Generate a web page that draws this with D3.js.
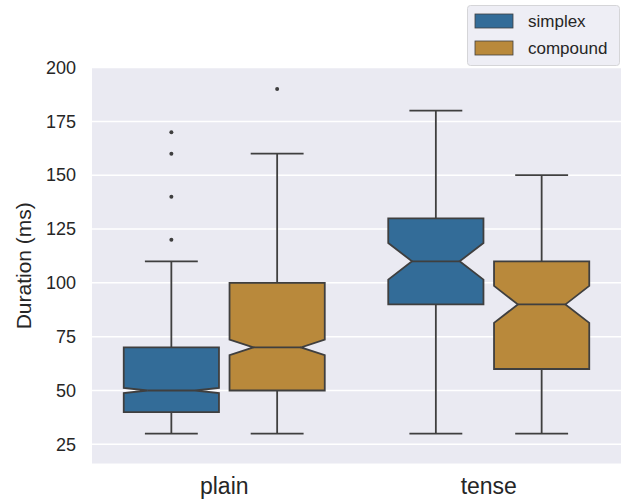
<!DOCTYPE html>
<html>
<head>
<meta charset="utf-8">
<script src="https://cdn.jsdelivr.net/npm/d3@7"></script>
<style>
  body { margin: 0; background: #fff; }
  text { font-family: "Liberation Sans", Arial, sans-serif; fill: #262626; }
</style>
</head>
<body>
<div id="chart"></div>
<script>
// categories and series
var categories = ['plain', 'tense'];
var series = ['simplex', 'compound'];
var colors = ['#336c98', '#b9893b'];
var yTicks = [25, 50, 75, 100, 125, 150, 175, 200];

// box stats, indexed [category][series]
var whiskLo = [[30, 30], [30, 30]];
var q1 = [[40, 50], [90, 60]];
var median = [[50, 70], [110, 90]];
var q3 = [[70, 100], [130, 110]];
var whiskHi = [[110, 160], [180, 150]];
var notchLo = [[48.8, 66.4], [101.5, 81.4]];
var notchHi = [[51.2, 73.6], [118.5, 98.6]];
var outliers = [[[120, 140, 160, 170], [190]], [[], []]];

var width = 625, height = 504;
var plot = {left: 92, right: 621, top: 68, bottom: 463.5};

var svg = d3.select('#chart').append('svg')
  .attr('width', width)
  .attr('height', height);

var x = d3.scaleBand().domain(categories).range([plot.left, plot.right]);
var xs = d3.scaleBand().domain(series).range([-x.bandwidth() * 0.4, x.bandwidth() * 0.4]);
var y = d3.scaleLinear().domain([16.1, 199.8]).range([plot.bottom, plot.top]);

svg.append('rect')
  .attr('x', plot.left).attr('y', plot.top)
  .attr('width', plot.right - plot.left)
  .attr('height', plot.bottom - plot.top)
  .attr('fill', '#eaeaf2');

// grid
svg.append('g').selectAll('line').data(yTicks).enter().append('line')
  .attr('x1', plot.left).attr('x2', plot.right)
  .attr('y1', function(d){ return y(d); })
  .attr('y2', function(d){ return y(d); })
  .attr('stroke', '#fff').attr('stroke-width', 1.5);

// y axis labels
var yAxis = svg.append('g')
  .attr('transform', 'translate(' + (plot.left - 2) + ',0)')
  .call(d3.axisLeft(y).tickValues(yTicks).tickSize(0).tickPadding(14));
yAxis.select('.domain').remove();
yAxis.selectAll('text')
  .attr('fill', '#262626')
  .style('font-size', '18px')
  .style('font-family', '"Liberation Sans", Arial, sans-serif');

// x axis labels
var xAxis = svg.append('g')
  .attr('transform', 'translate(0,' + plot.bottom + ')')
  .call(d3.axisBottom(x).tickSize(0).tickPadding(14));
xAxis.select('.domain').remove();
xAxis.selectAll('text')
  .attr('fill', '#262626')
  .style('font-size', '23px')
  .style('font-family', '"Liberation Sans", Arial, sans-serif');

svg.append('text')
  .attr('transform', 'translate(31,' + ((plot.top + plot.bottom) / 2) + ') rotate(-90)')
  .attr('text-anchor', 'middle')
  .style('font-size', '21px')
  .text('Duration (ms)');

// boxes
var boxW = xs.bandwidth() * 0.9;
var capW = xs.bandwidth() * 0.5;
var lineColor = '#3f3f3f';

var boxes = [];
categories.forEach(function(c, i){
  series.forEach(function(s, j){
    boxes.push({cat: c, ser: s, i: i, j: j});
  });
});

var g = svg.append('g').selectAll('g').data(boxes).enter().append('g')
  .attr('transform', function(d){
    return 'translate(' + (x(d.cat) + x.bandwidth() / 2 + xs(d.ser) + xs.bandwidth() / 2) + ',0)';
  });

// whiskers
g.append('line')
  .attr('x1', 0).attr('x2', 0)
  .attr('y1', function(d){ return y(q3[d.i][d.j]); })
  .attr('y2', function(d){ return y(whiskHi[d.i][d.j]); })
  .attr('stroke', lineColor).attr('stroke-width', 1.8);
g.append('line')
  .attr('x1', 0).attr('x2', 0)
  .attr('y1', function(d){ return y(q1[d.i][d.j]); })
  .attr('y2', function(d){ return y(whiskLo[d.i][d.j]); })
  .attr('stroke', lineColor).attr('stroke-width', 1.8);
g.append('line')
  .attr('x1', -capW / 2).attr('x2', capW / 2)
  .attr('y1', function(d){ return y(whiskHi[d.i][d.j]); })
  .attr('y2', function(d){ return y(whiskHi[d.i][d.j]); })
  .attr('stroke', lineColor).attr('stroke-width', 1.8);
g.append('line')
  .attr('x1', -capW / 2).attr('x2', capW / 2)
  .attr('y1', function(d){ return y(whiskLo[d.i][d.j]); })
  .attr('y2', function(d){ return y(whiskLo[d.i][d.j]); })
  .attr('stroke', lineColor).attr('stroke-width', 1.8);

// notched box
g.append('path')
  .attr('d', function(d){
    var L = -boxW / 2, R = boxW / 2, cl = -boxW / 4, cr = boxW / 4;
    var pts = [
      [L, y(q1[d.i][d.j])], [R, y(q1[d.i][d.j])],
      [R, y(notchLo[d.i][d.j])], [cr, y(median[d.i][d.j])], [R, y(notchHi[d.i][d.j])],
      [R, y(q3[d.i][d.j])], [L, y(q3[d.i][d.j])],
      [L, y(notchHi[d.i][d.j])], [cl, y(median[d.i][d.j])], [L, y(notchLo[d.i][d.j])]
    ];
    return d3.line()(pts) + 'Z';
  })
  .attr('fill', function(d){ return colors[d.j]; })
  .attr('stroke', lineColor).attr('stroke-width', 1.8)
  .attr('stroke-linejoin', 'miter');

// median
g.append('line')
  .attr('x1', -boxW / 4).attr('x2', boxW / 4)
  .attr('y1', function(d){ return y(median[d.i][d.j]); })
  .attr('y2', function(d){ return y(median[d.i][d.j]); })
  .attr('stroke', lineColor).attr('stroke-width', 1.8);

// outliers
g.selectAll('circle').data(function(d){ return outliers[d.i][d.j]; })
  .enter().append('circle')
  .attr('cx', 0)
  .attr('cy', function(v){ return y(v); })
  .attr('r', 2)
  .attr('fill', lineColor);

// legend
var legend = svg.append('g');
legend.append('rect')
  .attr('x', 467.5).attr('y', 5.5)
  .attr('width', 152).attr('height', 60)
  .attr('rx', 3)
  .attr('fill', '#eaeaf2').attr('fill-opacity', 0.8)
  .attr('stroke', '#d5d5d8').attr('stroke-width', 1);

var items = legend.selectAll('g').data(series).enter().append('g')
  .attr('transform', function(d, i){ return 'translate(475,' + (14 + i * 27) + ')'; });
items.append('rect')
  .attr('width', 38).attr('height', 14)
  .attr('fill', function(d, i){ return colors[i]; })
  .attr('stroke', lineColor).attr('stroke-width', 0.8);
items.append('text')
  .attr('x', 53).attr('y', 13)
  .style('font-size', '17px')
  .text(function(d){ return d; });
</script>
</body>
</html>
